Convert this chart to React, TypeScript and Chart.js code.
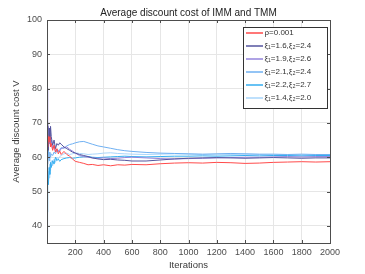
import React, { useEffect, useRef } from "react";
import { Chart, registerables } from "chart.js";

Chart.register(...registerables);

const iterations = [1, 3, 6, 10, 15, 20, 25, 30, 40, 50, 60, 70, 80, 90, 100, 120, 140, 160, 180, 200, 230, 260, 290, 320, 360, 400, 450, 500, 550, 600, 700, 800, 900, 1000, 1100, 1200, 1300, 1400, 1500, 1600, 1700, 1800, 1900, 2000];

const rhoSeries = [64, 66.5, 63, 66, 64.5, 66, 63, 64, 62, 63.5, 61.5, 62.5, 61, 61.8, 60.8, 61.7, 60.8, 60.3, 59.5, 58.8, 58.5, 58.2, 57.8, 57.9, 57.6, 57.8, 57.5, 57.8, 57.7, 57.9, 57.8, 58.1, 58.3, 58.4, 58.3, 58.5, 58.4, 58.2, 58.3, 58.5, 58.6, 58.7, 58.6, 58.7];
const xi16Series = [70, 64, 67, 62, 68.5, 65, 69, 66, 63.5, 65, 62.5, 64, 63.5, 64.2, 63.8, 63, 62.5, 62, 61.5, 61.2, 60.8, 60.5, 60.2, 59.8, 59.5, 59.3, 59.4, 59.2, 59.1, 58.9, 58.9, 59.2, 59.5, 59.7, 59.8, 59.9, 59.8, 59.7, 59.8, 59.9, 59.8, 59.7, 59.8, 59.8];
const xi19Series = [80, 72, 66, 69, 64, 67, 63, 65, 62.5, 63.5, 61.5, 62.3, 62, 61.8, 62.5, 62.8, 63, 62.3, 61.8, 61.2, 60.5, 60.2, 60, 59.8, 59.7, 59.8, 59.6, 59.7, 59.9, 60, 59.8, 59.6, 59.5, 59.6, 59.7, 59.8, 59.9, 60, 60, 60.1, 60.2, 60.1, 60.2, 60.2];
const xi21Series = [56, 60, 58, 62, 59, 61.5, 60, 61, 60.5, 61.5, 61, 62, 61.5, 62.3, 62.8, 62.6, 63.3, 63.7, 63.9, 64.2, 64.5, 64.6, 64.2, 63.8, 63.3, 63, 62.6, 62.2, 61.9, 61.7, 61.4, 61.2, 61.1, 61, 60.9, 61, 61.1, 61, 60.9, 60.9, 60.8, 60.9, 60.8, 60.8];
const xi22Series = [44, 50, 55, 52, 57, 55, 58.5, 57, 59, 58, 60, 59, 59.5, 58.8, 59.3, 59.6, 59.8, 59.9, 59.7, 59.8, 60, 60.1, 60.2, 60, 59.9, 60, 60.1, 60.2, 60.3, 60.2, 60.1, 60.2, 60.3, 60.3, 60.4, 60.3, 60.4, 60.5, 60.4, 60.5, 60.5, 60.4, 60.5, 60.5];
const xi14Series = [38, 46, 52, 56, 54, 58, 56, 59, 57.5, 59.5, 58.5, 60, 59.5, 60.2, 60.5, 61, 61.2, 60.8, 61, 61.3, 61.1, 61, 60.8, 60.9, 61, 61.2, 61.3, 61.1, 61, 60.9, 60.8, 60.9, 61, 60.9, 60.8, 60.7, 60.8, 60.9, 60.8, 60.7, 60.8, 60.7, 60.7, 60.7];

const seriesLabels = ["ρ=0.001", "ξ₁=1.6,ξ₂=2.4", "ξ₁=1.9,ξ₂=2.6", "ξ₁=2.1,ξ₂=2.4", "ξ₁=2.2,ξ₂=2.7", "ξ₁=1.4,ξ₂=2.0"];
const seriesValues = [rhoSeries, xi16Series, xi19Series, xi21Series, xi22Series, xi14Series];
const seriesColors = ["#ff4a4a", "#55559f", "#9585dc", "#6fb0f2", "#35aef0", "#a9d6fb"];

const xTicks = [200, 400, 600, 800, 1000, 1200, 1400, 1600, 1800, 2000];
const yTicks = [40, 50, 60, 70, 80, 90, 100];

const titleText = "Average discount cost of IMM and TMM";
const xTitle = "Iterations";
const yTitle = "Average discount cost V";

const FONT = "'Liberation Sans', Arial, 'DejaVu Sans', sans-serif";

export default function App() {
  const ref = useRef<HTMLCanvasElement | null>(null);

  useEffect(() => {
    document.body.style.margin = "0";
    const canvas = ref.current!;
    const decor = {
      id: "decor",
      afterDraw(chart: any) {
        const { ctx, chartArea: a } = chart;
        const xs = chart.scales.x;
        const ys = chart.scales.y;
        ctx.save();
        ctx.strokeStyle = "#4d4d4d";
        ctx.lineWidth = 1;
        ctx.strokeRect(Math.round(a.left) + 0.5, Math.round(a.top) + 0.5, Math.round(a.right - a.left), Math.round(a.bottom - a.top));
        ctx.beginPath();
        xTicks.forEach((t) => {
          const px = Math.round(xs.getPixelForValue(t)) + 0.5;
          ctx.moveTo(px, a.bottom); ctx.lineTo(px, a.bottom - 3);
          ctx.moveTo(px, a.top); ctx.lineTo(px, a.top + 3);
        });
        yTicks.forEach((t) => {
          const py = Math.round(ys.getPixelForValue(t)) + 0.5;
          ctx.moveTo(a.left, py); ctx.lineTo(a.left + 3, py);
          ctx.moveTo(a.right, py); ctx.lineTo(a.right - 3, py);
        });
        ctx.stroke();
        ctx.fillStyle = "#222222";
        ctx.font = `10px ${FONT}`;
        ctx.textAlign = "center";
        ctx.textBaseline = "middle";
        ctx.fillText(titleText, (a.left + a.right) / 2, 13);
        ctx.fillStyle = "#3a3a3a";
        ctx.font = `9.5px ${FONT}`;
        ctx.fillText(xTitle, (a.left + a.right) / 2, 265);
        ctx.save();
        ctx.translate(16, (a.top + a.bottom) / 2);
        ctx.rotate(-Math.PI / 2);
        ctx.fillText(yTitle, 0, 0);
        ctx.restore();
        const bx = 243, by = 27, bw = 84, bh = 81;
        ctx.fillStyle = "#ffffff";
        ctx.fillRect(bx, by, bw, bh);
        ctx.strokeStyle = "#333333";
        ctx.strokeRect(bx + 0.5, by + 0.5, bw, bh);
        ctx.font = `8px ${FONT}`;
        ctx.textAlign = "left";
        seriesLabels.forEach((lab, i) => {
          const cy = 32.5 + i * 13.1;
          ctx.strokeStyle = seriesColors[i];
          ctx.lineWidth = 1.5;
          ctx.beginPath();
          ctx.moveTo(246, Math.round(cy));
          ctx.lineTo(263, Math.round(cy));
          ctx.stroke();
          ctx.fillStyle = "#333333";
          ctx.fillText(lab, 264.5, cy);
        });
        ctx.restore();
      },
    };

    const chart = new Chart(canvas, {
      type: "line",
      data: {
        datasets: seriesLabels.map((lab, i) => ({
          label: lab,
          data: iterations.map((it, j) => ({ x: it, y: seriesValues[i][j] })),
          borderColor: seriesColors[i],
          backgroundColor: seriesColors[i],
          borderWidth: 1,
          pointRadius: 0,
          tension: 0,
        })),
      },
      options: {
        animation: false,
        responsive: false,
        devicePixelRatio: 1,
        layout: { padding: { top: 20, right: 35, left: 0, bottom: 0 } },
        plugins: { legend: { display: false }, title: { display: false }, tooltip: { enabled: false } },
        scales: {
          x: {
            type: "linear",
            min: 0,
            max: 2000,
            afterBuildTicks: (s: any) => { s.ticks = xTicks.map((v) => ({ value: v })); },
            afterFit: (s: any) => { s.height = 31; },
            grid: { color: "#e6e6e6", drawTicks: false },
            border: { display: false },
            ticks: { color: "#4d4d4d", font: { size: 9, family: FONT }, padding: 4, maxRotation: 0, autoSkip: false, callback: (v: any) => String(v) },
          },
          y: {
            type: "linear",
            min: 35,
            max: 100,
            afterBuildTicks: (s: any) => { s.ticks = yTicks.map((v) => ({ value: v })); },
            afterFit: (s: any) => { s.width = 47; },
            grid: { color: "#e6e6e6", drawTicks: false },
            border: { display: false },
            ticks: { color: "#4d4d4d", font: { size: 9, family: FONT }, padding: 5, autoSkip: false, callback: (v: any) => String(v) },
          },
        },
      },
      plugins: [decor],
    });
    return () => chart.destroy();
  }, []);

  return <canvas ref={ref} width={365} height={274} style={{ display: "block", width: 365, height: 274 }} />;
}
